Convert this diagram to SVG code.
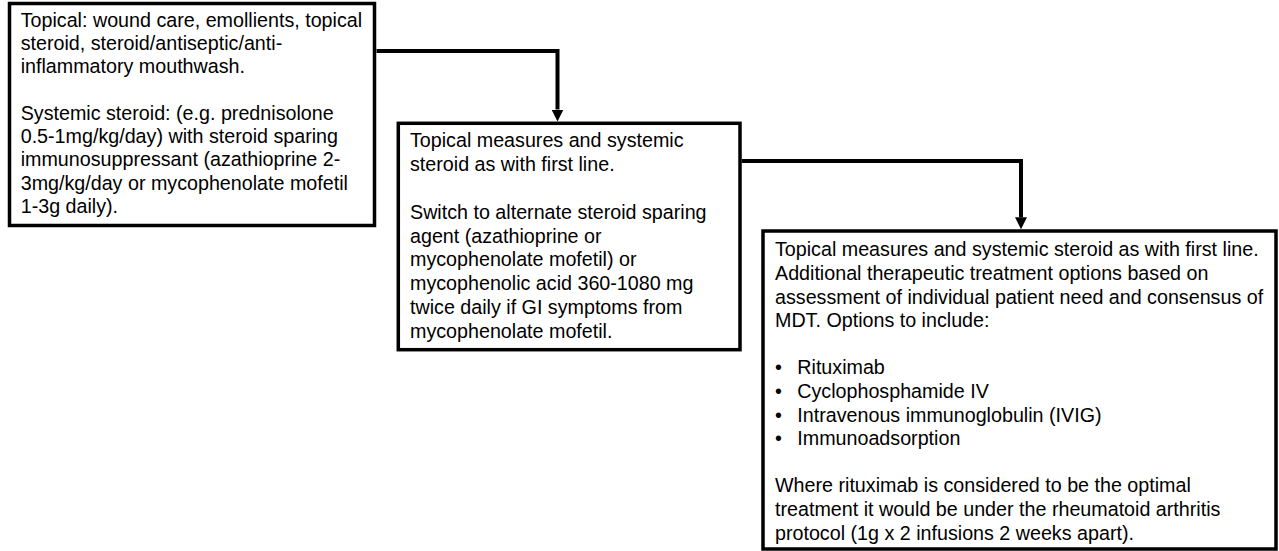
<svg xmlns="http://www.w3.org/2000/svg" width="1279" height="551" viewBox="0 0 1279 551">
<style>
.box{fill:#fff;stroke:#000;stroke-width:3.5}
.t{font-family:"Liberation Sans",Arial,sans-serif;font-size:19.7px;fill:#000}
.c{fill:none;stroke:#000;stroke-width:4}
</style>
<defs>
<marker id="ah" markerUnits="userSpaceOnUse" markerWidth="12" markerHeight="12" viewBox="0 0 12 12" refX="0" refY="6" orient="auto">
<path d="M0,0 L12,6 L0,12 z" fill="#000"/>
</marker>
</defs>
<rect width="1279" height="551" fill="#fff"/>
<g id="connectors">
<path class="c" d="M376.5 51 H557.5 V109.5" marker-end="url(#ah)"/>
<path class="c" d="M741.7 161 H1021 V217.2" marker-end="url(#ah)"/>
</g>
<g id="node1">
<rect class="box" x="9.5" y="3.5" width="365" height="222"/>
<text class="t">
<tspan x="20.7" y="26.5">Topical: wound care, emollients, topical</tspan>
<tspan x="20.7" y="49.8">steroid, steroid/antiseptic/anti-</tspan>
<tspan x="20.7" y="73.1">inflammatory mouthwash.</tspan>
<tspan x="20.7" y="119.7">Systemic steroid: (e.g. prednisolone</tspan>
<tspan x="20.7" y="143">0.5-1mg/kg/day) with steroid sparing</tspan>
<tspan x="20.7" y="166.3">immunosuppressant (azathioprine 2-</tspan>
<tspan x="20.7" y="189.6">3mg/kg/day or mycophenolate mofetil</tspan>
<tspan x="20.7" y="212.9">1-3g daily).</tspan>
</text>
</g>
<g id="node2">
<rect class="box" x="398.3" y="123.3" width="341.7" height="226.4"/>
<text class="t">
<tspan x="410" y="146.7">Topical measures and systemic</tspan>
<tspan x="410" y="170.6">steroid as with first line.</tspan>
<tspan x="410" y="218.5">Switch to alternate steroid sparing</tspan>
<tspan x="410" y="242.5">agent (azathioprine or</tspan>
<tspan x="410" y="266.4">mycophenolate mofetil) or</tspan>
<tspan x="410" y="290.4">mycophenolic acid 360-1080 mg</tspan>
<tspan x="410" y="314.4">twice daily if GI symptoms from</tspan>
<tspan x="410" y="338.3">mycophenolate mofetil.</tspan>
</text>
</g>
<g id="node3">
<rect class="box" x="763" y="231" width="513" height="318"/>
<text class="t">
<tspan x="775" y="256.4">Topical measures and systemic steroid as with first line.</tspan>
<tspan x="775" y="280">Additional therapeutic treatment options based on</tspan>
<tspan x="775" y="303.6">assessment of individual patient need and consensus of</tspan>
<tspan x="775" y="327.2">MDT. Options to include:</tspan>
<tspan x="775" y="374.4">•</tspan><tspan x="797.3" y="374.4">Rituximab</tspan>
<tspan x="775" y="398">•</tspan><tspan x="797.3" y="398">Cyclophosphamide IV</tspan>
<tspan x="775" y="421.6">•</tspan><tspan x="797.3" y="421.6">Intravenous immunoglobulin (IVIG)</tspan>
<tspan x="775" y="445.2">•</tspan><tspan x="797.3" y="445.2">Immunoadsorption</tspan>
<tspan x="775" y="492.4">Where rituximab is considered to be the optimal</tspan>
<tspan x="775" y="516">treatment it would be under the rheumatoid arthritis</tspan>
<tspan x="775" y="539.6">protocol (1g x 2 infusions 2 weeks apart).</tspan>
</text>
</g>
</svg>
